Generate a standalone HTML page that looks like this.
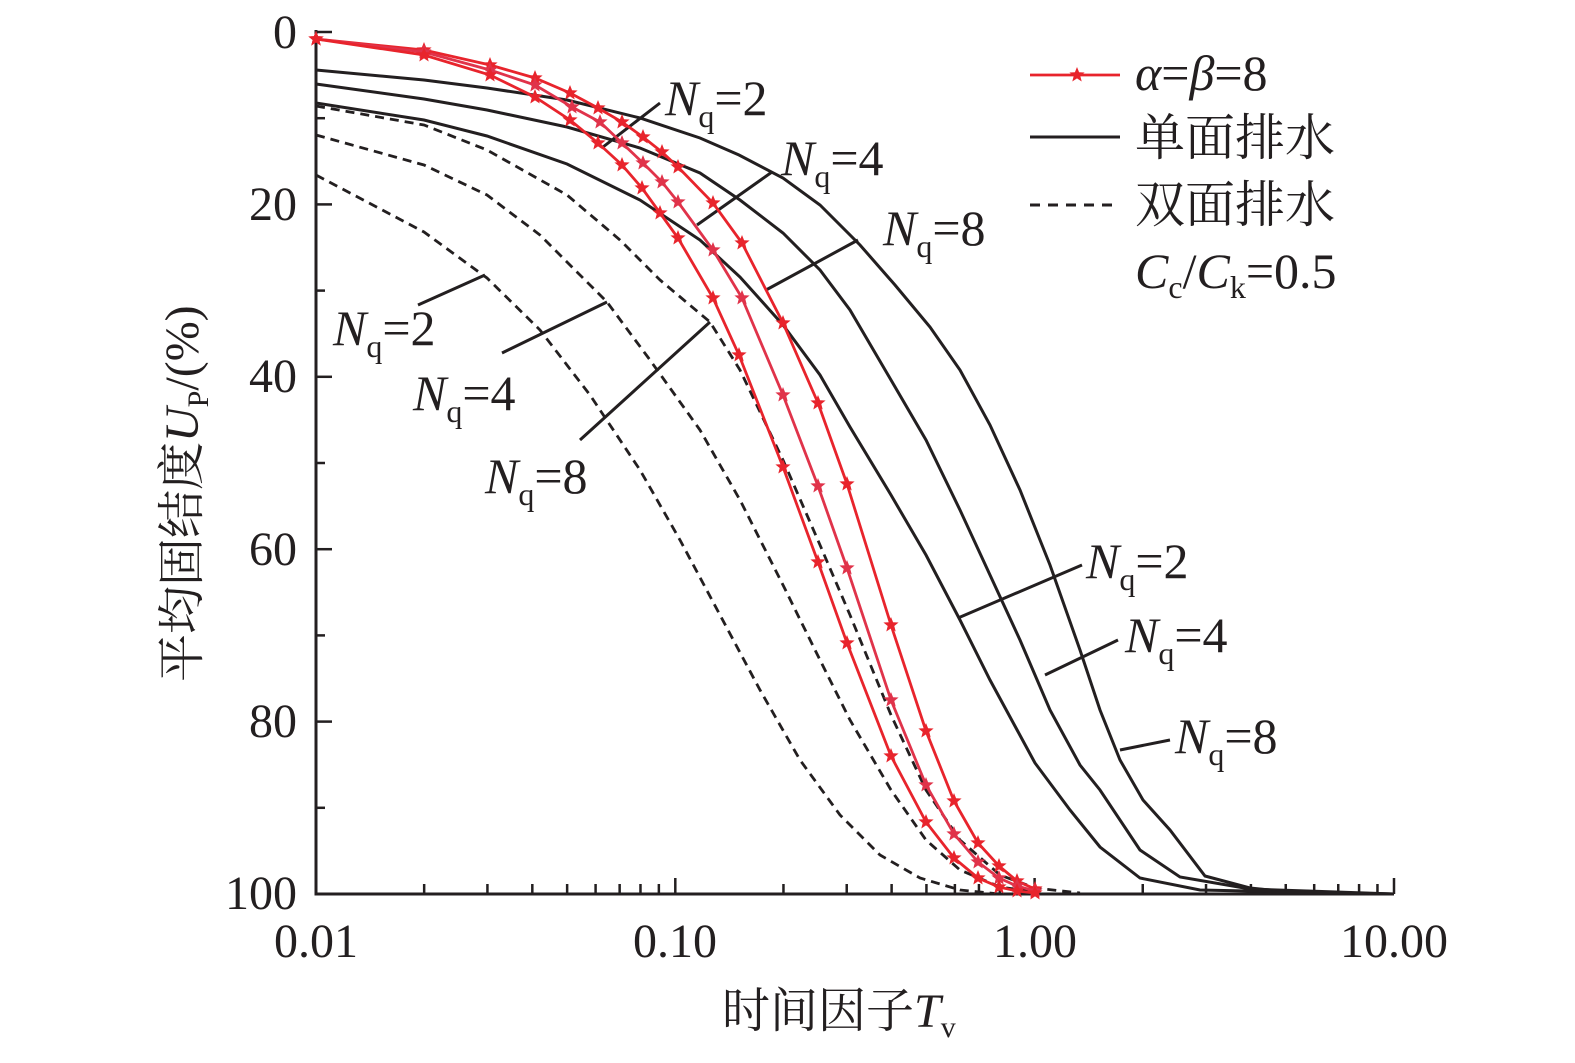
<!DOCTYPE html>
<html><head><meta charset="utf-8">
<style>
html,body{margin:0;padding:0;background:#fff;}
svg{display:block;}
text{font-family:"Liberation Serif","Noto Serif CJK SC",serif;fill:#231f20;}
.cj{font-family:"Liberation Serif","Noto Serif CJK SC","Noto Sans CJK SC",serif;}
</style></head>
<body>
<svg id="s" width="1575" height="1063" viewBox="0 0 1575 1063" xmlns="http://www.w3.org/2000/svg">
<defs>
<polygon id="st" points="0,-8 2.1,-2.7 7.6,-2.5 3.3,1 4.7,6.5 0,3.4 -4.7,6.5 -3.3,1 -7.6,-2.5 -2.1,-2.7"/>
</defs>
<g id="ticks" stroke="#231f20" stroke-width="2.5" fill="none"></g>
<path d="M316,30 V894 H1394" stroke="#231f20" stroke-width="3" fill="none"/>
<g fill="none" stroke="#231f20" stroke-width="2.8" stroke-dasharray="9,6">
<polyline points="316,106 424,125 487,150 567,195 620,240 660,280 710,322 740,370 783,460 820,545 850,615 891,715 926,790 960,840 1000,875 1035,888 1080,893"/>
<polyline points="316,135 424,165 487,195 540,235 607,302 650,360 700,430 740,500 783,585 820,660 850,720 891,790 926,840 960,870 1000,887 1035,892"/>
<polyline points="316,175 424,232 487,278 540,330 590,395 640,470 680,540 720,615 760,690 800,760 840,815 880,855 920,878 960,890 1000,894"/>
</g>
<g fill="none" stroke="#231f20" stroke-width="3">
<polyline points="316,70 424,80 487,88 567,100 640,118 700,138 739,155 783,178 820,205 860,245 895,285 930,327 960,370 990,425 1020,490 1050,565 1080,650 1100,710 1120,760 1143,800 1170,830 1205,876 1250,888 1300,893 1394,894"/>
<polyline points="316,84 424,99 487,110 567,127 640,148 700,173 740,200 783,233 820,270 850,310 891,380 926,440 960,510 990,575 1020,640 1050,710 1080,765 1100,790 1140,850 1180,877 1250,889 1394,894"/>
<polyline points="316,103 424,120 487,136 567,164 640,200 700,240 740,277 783,325 820,375 850,427 891,495 926,555 960,620 990,680 1035,763 1070,810 1100,847 1140,878 1200,890 1394,894"/>
<path d="M603,147 L660,103 M697,225 L772,172 M766,290 L858,240 M418,305 L485,275 M502,353 L607,302 M580,440 L710,322 M958,618 L1082,565 M1045,675 L1118,640 M1120,750 L1170,740"/>
<path d="M1030,137 H1120 M1030,205 H1040 M1048,205 H1058 M1066,205 H1076 M1084,205 H1094 M1102,205 H1112"/>
</g>
<g id="red" fill="none" stroke-width="2.8"></g>
<line x1="1030" y1="75" x2="1120" y2="75" stroke="#e8242c" stroke-width="2.8"/>
<use href="#st" x="1077" y="75" fill="#e8242c"/>
<g font-size="48" text-anchor="end">
<text x="297" y="48">0</text>
<text x="297" y="220">20</text>
<text x="297" y="392">40</text>
<text x="297" y="565">60</text>
<text x="297" y="737">80</text>
<text x="297" y="909">100</text>
</g>
<g font-size="48" text-anchor="middle">
<text x="316" y="957">0.01</text>
<text x="675" y="957">0.10</text>
<text x="1035" y="957">1.00</text>
<text x="1394" y="957">10.00</text>
</g>
<text class="cj" x="722" y="1027" font-size="48">时间因子<tspan font-style="italic">T</tspan><tspan font-size="30" dy="10">v</tspan></text>
<text class="cj" transform="translate(198,682) rotate(-90)" font-size="48">平均固结度<tspan font-style="italic">U</tspan><tspan font-size="30" dy="10">P</tspan><tspan dy="-10">/(%)</tspan></text>
<text x="1135" y="90" font-size="50"><tspan font-style="italic">α</tspan>=<tspan font-style="italic">β</tspan>=8</text>
<text class="cj" x="1135" y="155" font-size="50">单面排水</text>
<text class="cj" x="1135" y="222" font-size="50">双面排水</text>
<text x="1135" y="288" font-size="50"><tspan font-style="italic">C</tspan><tspan font-size="32" dy="10">c</tspan><tspan dy="-10">/</tspan><tspan font-style="italic">C</tspan><tspan font-size="32" dy="10">k</tspan><tspan dy="-10">=0.5</tspan></text>
<g font-size="50">
<text x="665" y="115"><tspan font-style="italic">N</tspan><tspan font-size="32" dy="12">q</tspan><tspan dy="-12">=2</tspan></text>
<text x="781" y="175"><tspan font-style="italic">N</tspan><tspan font-size="32" dy="12">q</tspan><tspan dy="-12">=4</tspan></text>
<text x="883" y="245"><tspan font-style="italic">N</tspan><tspan font-size="32" dy="12">q</tspan><tspan dy="-12">=8</tspan></text>
<text x="333" y="345"><tspan font-style="italic">N</tspan><tspan font-size="32" dy="12">q</tspan><tspan dy="-12">=2</tspan></text>
<text x="413" y="410"><tspan font-style="italic">N</tspan><tspan font-size="32" dy="12">q</tspan><tspan dy="-12">=4</tspan></text>
<text x="485" y="493"><tspan font-style="italic">N</tspan><tspan font-size="32" dy="12">q</tspan><tspan dy="-12">=8</tspan></text>
<text x="1086" y="578"><tspan font-style="italic">N</tspan><tspan font-size="32" dy="12">q</tspan><tspan dy="-12">=2</tspan></text>
<text x="1125" y="652"><tspan font-style="italic">N</tspan><tspan font-size="32" dy="12">q</tspan><tspan dy="-12">=4</tspan></text>
<text x="1175" y="753"><tspan font-style="italic">N</tspan><tspan font-size="32" dy="12">q</tspan><tspan dy="-12">=8</tspan></text>
</g>
<script>
(function(){
var NS="http://www.w3.org/2000/svg";
var t=document.getElementById('ticks');
function ln(x1,y1,x2,y2){var l=document.createElementNS(NS,'line');l.setAttribute('x1',x1);l.setAttribute('y1',y1);l.setAttribute('x2',x2);l.setAttribute('y2',y2);t.appendChild(l);}
for(var i=0;i<=10;i++){var y=32+i*86.2;ln(316,y,i%2==0?332:325,y);}
for(var d=0;d<3;d++){for(var k=1;k<10;k++){var x=316+359.3*(d+Math.log10(k));ln(x,894,x,k==1?878:884);}}
ln(1394,894,1394,878);
var red=document.getElementById('red');
var C=[
["#e8242c","316,39 424,50 490,65 535,78 570,93 598,108 622,122 643,137 662,152 678,167 713,203 742,243 783,323 818,403 847,484 891,625 926,731 954,801 978,843 999,866 1017,881 1035,889"],
["#e0334a","316,39 424,52 490,70 535,85 572,107 600,122 622,143 643,163 662,182 678,202 713,250 742,298 783,395 818,486 847,568 891,700 926,785 954,834 978,862 999,878 1017,886 1035,891"],
["#e8242c","316,39 424,55 490,75 535,97 570,120 598,143 622,165 642,188 660,213 678,238 713,298 739,355 783,467 818,562 847,643 891,756 926,822 954,858 978,878 999,887 1017,891 1035,893"]];
C.forEach(function(c){var p=document.createElementNS(NS,'polyline');p.setAttribute('points',c[1]);p.setAttribute('stroke',c[0]);red.appendChild(p);
c[1].split(' ').forEach(function(s){var q=s.split(',');var u=document.createElementNS(NS,'use');u.setAttribute('href','#st');u.setAttribute('x',q[0]);u.setAttribute('y',q[1]);u.setAttribute('fill',c[0]);red.appendChild(u);});});
})();
</script>
</svg>
</body></html>
